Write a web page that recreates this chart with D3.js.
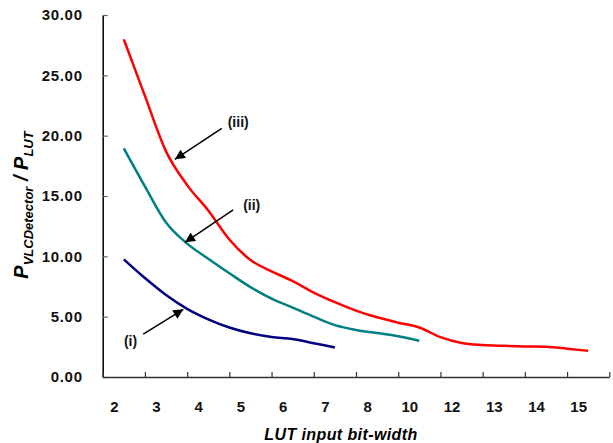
<!DOCTYPE html>
<html>
<head>
<meta charset="utf-8">
<script src="https://cdn.jsdelivr.net/npm/d3@7"></script>
<style>
  body { margin: 0; background: #fff; }
  svg text { font-family: "Liberation Sans", Arial, sans-serif; font-weight: bold; }
</style>
</head>
<body>
<div id="chart"></div>
<script>
// category labels on the x axis (equally spaced)
const xLabels = ["2", "3", "4", "5", "6", "7", "8", "10", "12", "13", "14", "15"];
const yTicks = [0, 5, 10, 15, 20, 25, 30];

// values read at every half category (index 0, 0.5, 1, ...)
const seriesI = [9.75, 8.2, 6.8, 5.65, 4.78, 4.1, 3.62, 3.32, 3.15, 2.8, 2.45];
const seriesII = [18.95, 15.8, 12.8, 11.05, 9.8, 8.6, 7.45, 6.5, 5.75, 5.0, 4.3, 3.9, 3.65, 3.38, 3.0];
const seriesIII = [27.98, 23.3, 18.7, 15.9, 13.8, 11.4, 9.7, 8.75, 7.95, 7.0, 6.2, 5.5, 4.95, 4.5, 4.1,
                   3.3, 2.82, 2.65, 2.58, 2.53, 2.5, 2.35, 2.17];

// annotation labels with arrows (data units: category index, value)
const notes = [
  { text: "(iii)", label: [2.71, 21.15], from: [2.32, 20.6], to: [1.21, 18.04] },
  { text: "(ii)", label: [3.03, 14.25], from: [2.59, 13.84], to: [1.45, 11.16] },
  { text: "(i)", label: [0.16, 3.0], from: [0.46, 3.56], to: [1.41, 5.61] }
];

const w = 613, h = 443;
const x = d3.scaleLinear().domain([-0.5, 11.5]).range([102.7, 609.3]);
const y = d3.scaleLinear().domain([0, 30]).range([377, 15]);

const svg = d3.select("#chart").append("svg")
  .attr("width", w).attr("height", h);

svg.append("defs").append("marker")
  .attr("id", "head")
  .attr("viewBox", "0 0 10 10")
  .attr("refX", 10).attr("refY", 5)
  .attr("markerWidth", 12).attr("markerHeight", 10)
  .attr("markerUnits", "userSpaceOnUse")
  .attr("orient", "auto")
  .append("path").attr("d", "M0,0 L10,5 L0,10 z").attr("fill", "#000");

// y axis
const yAxis = d3.axisLeft(y).tickValues(yTicks)
  .tickSizeInner(-5).tickSizeOuter(0).tickPadding(20)
  .tickFormat(d3.format(".2f"));
const gy = svg.append("g").attr("transform", "translate(102.7,0)").call(yAxis);
gy.select(".domain").attr("stroke", "#000").attr("stroke-width", 1.5);
gy.selectAll(".tick line").attr("stroke", "#666").attr("stroke-width", 1.2);
gy.selectAll("text").attr("font-size", 15).attr("letter-spacing", 0.7).attr("fill", "#111");

// x axis: tick marks between categories
const bounds = d3.range(-0.5, 12, 1);
const xAxis = d3.axisBottom(x).tickValues(bounds)
  .tickSizeInner(-5).tickSizeOuter(0).tickFormat("");
const gx = svg.append("g").attr("transform", "translate(0,377)").call(xAxis);
gx.select(".domain").attr("stroke", "#333").attr("stroke-width", 1.5);
gx.selectAll(".tick line").attr("stroke", "#333").attr("stroke-width", 1.2);

// x category labels
const xLab = d3.axisBottom(x).tickValues(d3.range(xLabels.length))
  .tickSize(0).tickPadding(24).tickFormat(i => xLabels[i]);
const gl = svg.append("g").attr("transform", "translate(0,377)").call(xLab);
gl.select(".domain").remove();
gl.selectAll("text").attr("font-size", 15).attr("fill", "#111").attr("dx", -10);

// lines
const line = d3.line()
  .x((d, i) => x(i / 2))
  .y(d => y(d))
  .curve(d3.curveMonotoneX);

[[seriesI, "#000080"], [seriesII, "#008080"], [seriesIII, "#ff0000"]].forEach(([s, c]) => {
  svg.append("path")
    .attr("d", line(s))
    .attr("fill", "none")
    .attr("stroke", c)
    .attr("stroke-width", 2.5);
});

// annotations
notes.forEach(n => {
  svg.append("line")
    .attr("x1", x(n.from[0])).attr("y1", y(n.from[1]))
    .attr("x2", x(n.to[0])).attr("y2", y(n.to[1]))
    .attr("stroke", "#000").attr("stroke-width", 1.5)
    .attr("marker-end", "url(#head)");
  svg.append("text")
    .attr("x", x(n.label[0])).attr("y", y(n.label[1]))
    .attr("text-anchor", "middle").attr("dy", "0.35em")
    .attr("font-size", 14).attr("fill", "#111")
    .text(n.text);
});

// axis titles
svg.append("text")
  .attr("x", 341).attr("y", 440)
  .attr("text-anchor", "middle")
  .attr("font-size", 16).attr("letter-spacing", 0.4).attr("font-style", "italic")
  .text("LUT input bit-width");

const yt = svg.append("text")
  .attr("transform", "translate(28,205) rotate(-90)")
  .attr("text-anchor", "middle")
  .attr("font-style", "italic");
yt.append("tspan").attr("font-size", 20).text("P");
yt.append("tspan").attr("font-size", 13).attr("dy", 5).text("VLCDetector");
yt.append("tspan").attr("font-size", 20).attr("dy", -5).text(" / P");
yt.append("tspan").attr("font-size", 13).attr("dy", 5).text("LUT");
</script>
</body>
</html>
